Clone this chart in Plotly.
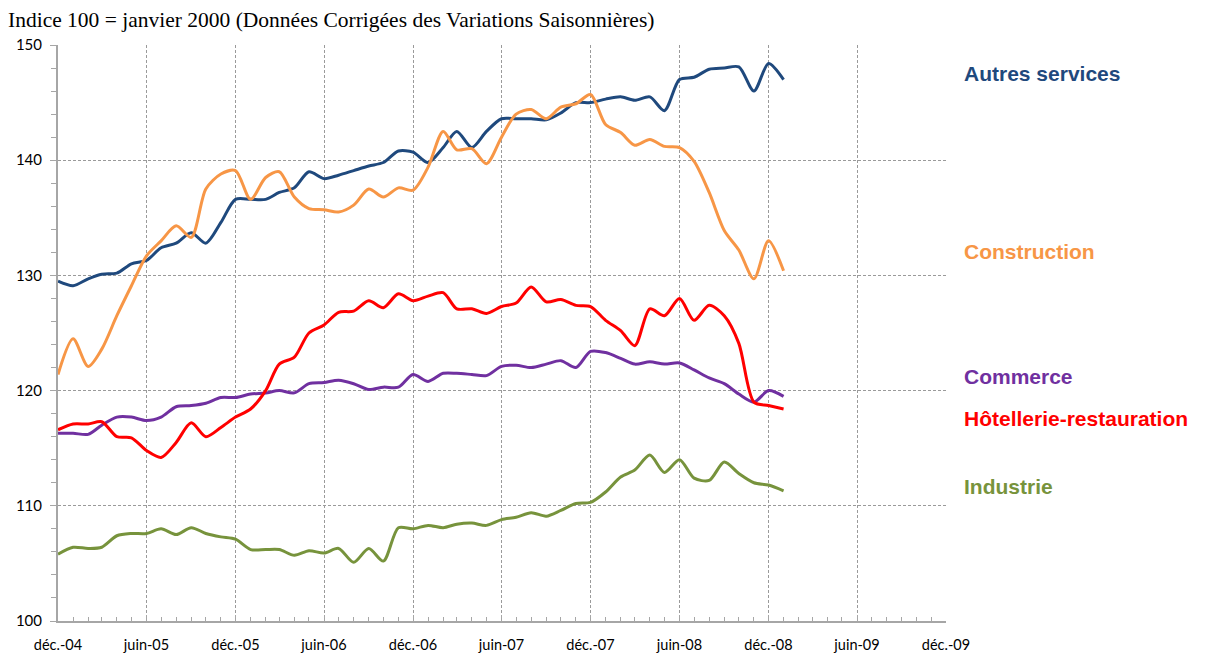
import pandas as pd
import plotly.graph_objects as go

months = pd.date_range("2004-12-01", "2009-01-01", freq="MS")

autres_services = [129.5, 129.1, 129.7, 130.1, 130.2, 131.0, 131.3, 132.4, 132.8, 133.7,
                   132.8, 134.6, 136.6, 136.6, 136.6, 137.2, 137.6, 139.0, 138.4, 138.7,
                   139.1, 139.5, 139.8, 140.8, 140.7, 139.8, 141.1, 142.5, 141.1, 142.5,
                   143.6, 143.6, 143.6, 143.5, 144.1, 145.0, 145.0, 145.3, 145.5, 145.2,
                   145.5, 144.3, 147.0, 147.2, 147.9, 148.0, 148.1, 146.0, 148.4, 147.0]
construction = [121.4, 124.5, 122.1, 123.6, 126.5, 129.1, 131.7, 133.0, 134.3, 133.3,
                137.5, 138.8, 139.1, 136.6, 138.5, 139.0, 136.8, 135.8, 135.7, 135.5,
                136.1, 137.5, 136.8, 137.6, 137.4, 139.4, 142.5, 140.9, 141.0, 139.7,
                142.0, 144.0, 144.4, 143.6, 144.6, 144.9, 145.7, 143.1, 142.4, 141.3,
                141.8, 141.2, 141.1, 139.9, 137.2, 133.9, 132.2, 129.7, 133.0, 130.4]
commerce = [116.3, 116.3, 116.2, 117.0, 117.7, 117.7, 117.4, 117.7, 118.6, 118.7,
            118.9, 119.4, 119.4, 119.7, 119.8, 120.0, 119.8, 120.6, 120.7, 120.9,
            120.6, 120.1, 120.3, 120.3, 121.4, 120.8, 121.5, 121.5, 121.4, 121.3,
            122.1, 122.2, 122.0, 122.3, 122.6, 122.0, 123.4, 123.3, 122.8, 122.3,
            122.5, 122.3, 122.4, 121.8, 121.1, 120.6, 119.7, 119.0, 120.0, 119.5]
hotellerie = [116.6, 117.1, 117.1, 117.3, 116.0, 115.9, 114.8, 114.2, 115.5, 117.2,
              116.0, 116.8, 117.7, 118.4, 120.0, 122.3, 122.9, 125.0, 125.7, 126.8,
              126.9, 127.8, 127.2, 128.4, 127.8, 128.2, 128.5, 127.1, 127.1, 126.7,
              127.3, 127.6, 129.0, 127.7, 127.9, 127.4, 127.3, 126.1, 125.2, 123.9,
              127.1, 126.5, 128.0, 126.1, 127.4, 126.5, 124.1, 119.0, 118.7, 118.4]
industrie = [105.8, 106.4, 106.3, 106.4, 107.4, 107.6, 107.6, 108.0, 107.5, 108.1,
             107.6, 107.3, 107.1, 106.2, 106.2, 106.2, 105.7, 106.1, 105.9, 106.3,
             105.1, 106.3, 105.2, 108.1, 108.0, 108.3, 108.1, 108.4, 108.5, 108.3,
             108.8, 109.0, 109.4, 109.1, 109.6, 110.2, 110.3, 111.2, 112.5, 113.1,
             114.4, 112.9, 114.0, 112.4, 112.2, 113.8, 112.8, 112.0, 111.8, 111.3]

series_names = ["Autres services", "Construction", "Commerce",
                "Hôtellerie-restauration", "Industrie"]
series_values = [autres_services, construction, commerce, hotellerie, industrie]
colors = ["#1F497D", "#F79646", "#7030A0", "#FF0000", "#77933C"]
label_y = [147.5, 132.1, 121.2, 117.6, 111.7]

tick_dates = pd.date_range("2004-12-01", "2009-12-01", freq="6MS")
tick_labels = ["déc.-04", "juin-05", "déc.-05", "juin-06", "déc.-06", "juin-07",
               "déc.-07", "juin-08", "déc.-08", "juin-09", "déc.-09"]

fig = go.Figure()
for name, vals, col in zip(series_names, series_values, colors):
    fig.add_trace(go.Scatter(x=months, y=vals, mode="lines", name=name,
                             line=dict(color=col, width=3, shape="spline", smoothing=0.8)))

for name, col, ly in zip(series_names, colors, label_y):
    fig.add_annotation(x=1.018, xref="paper", y=ly, yref="y", text="<b>%s</b>" % name,
                       showarrow=False, xanchor="left", yanchor="middle",
                       font=dict(family="Liberation Sans, Arial", size=21, color=col))

fig.add_annotation(x=-0.0585, xref="paper", y=1.0, yref="paper", yshift=25,
                   text="Indice 100 = janvier 2000 (Données Corrigées des Variations Saisonnières)",
                   showarrow=False, xanchor="left", yanchor="middle",
                   font=dict(family="Liberation Serif, Times New Roman", size=21.5, color="black"))

fig.update_layout(
    width=1206, height=654,
    margin=dict(l=58, r=260, t=45, b=33, autoexpand=False),
    paper_bgcolor="white", plot_bgcolor="white",
    showlegend=False,
    font=dict(family="Lato, Carlito, Calibri, sans-serif", size=14, color="black"),
)
fig.update_xaxes(
    range=[pd.Timestamp("2004-12-01"), pd.Timestamp("2009-12-01")],
    tickvals=tick_dates, ticktext=tick_labels,
    showgrid=True, gridcolor="#9A9A9A", griddash="3px,2px", gridwidth=1,
    showline=True, linecolor="#A6A6A6", linewidth=2,
    ticks="inside", ticklen=6, tickcolor="#A6A6A6", tickwidth=1,
    minor=dict(dtick="M1", ticks="inside", ticklen=4, tickcolor="#A6A6A6", showgrid=False),
    zeroline=False, tickfont=dict(size=14.5), ticklabelstandoff=10,
)
fig.update_yaxes(
    range=[100, 150], tickvals=[100, 110, 120, 130, 140, 150],
    showgrid=True, gridcolor="#9A9A9A", griddash="3px,2px", gridwidth=1,
    showline=True, linecolor="#A6A6A6", linewidth=2,
    ticks="outside", ticklen=6, tickcolor="#A6A6A6", tickwidth=1,
    minor=dict(dtick=2, ticks="outside", ticklen=5, tickcolor="#A6A6A6", showgrid=False),
    zeroline=False, tickfont=dict(size=15), ticklabelstandoff=5,
)

fig.write_html("out.html", config={"displayModeBar": False},
               post_script="document.body.style.margin='0px';document.body.style.overflow='hidden';")
